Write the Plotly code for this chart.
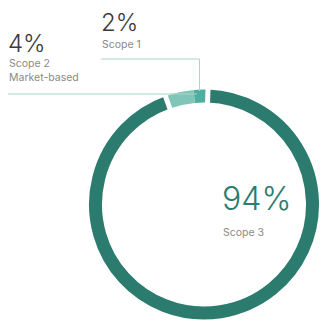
import plotly.graph_objects as go

W = H = 324
labels = ["Scope 1", "Scope 2", "Scope 3"]
values = [2, 4, 94]
pct_text = ["2%", "4%", "94%"]
sub_text = ["Scope 1", "Scope 2<br>Market-based", "Scope 3"]
colors = ["#4fae9f", "#80c6b8", "#2b7b6f"]

cx, cy = 204, 204.5  # ring centre in px
R, r = 115, 102       # outer / inner radius in px
gap = 5
rot = -5.2            # counterclockwise pies place first slice clockwise of this line


def dom(rad):
    return dict(x=[(cx - rad) / W, (cx + rad) / W],
                y=[(H - cy - rad) / H, (H - cy + rad) / H])


fig = go.Figure()
fig.add_trace(go.Pie(
    labels=labels, values=values, sort=False, direction="counterclockwise",
    rotation=rot, hole=r / R, domain=dom(R),
    marker=dict(colors=colors, line=dict(width=0)),
    textinfo="none", hoverinfo="label+percent", showlegend=False))
fig.add_trace(go.Pie(
    labels=labels, values=values, sort=False, direction="counterclockwise",
    rotation=rot, hole=(r - gap / 2) / (R + gap / 2), domain=dom(R + gap / 2),
    marker=dict(colors=["rgba(0,0,0,0)", "rgba(0,0,0,0)", colors[2]],
                line=dict(color="white", width=[0, 0, gap])),
    textinfo="none", hoverinfo="skip", showlegend=False))


def px(x, y):
    return x / W, 1 - y / H


line_col = "#a9d6cd"
shapes = []
for (x0, y0, x1, y1) in [(101, 59, 199.5, 59), (199.5, 59, 199.5, 91), (8, 94, 197, 94)]:
    a, b = px(x0, y0)
    c, d = px(x1, y1)
    shapes.append(dict(type="line", xref="paper", yref="paper", x0=a, y0=b, x1=c, y1=d,
                       line=dict(color=line_col, width=1)))

font_fam = "Inter, Lato, sans-serif"
ann = []
big = [(99, 23, 24, "#3a3a3a"), (6, 44, 24, "#3a3a3a"), (220, 199, 32, colors[2])]
small = [(100, 45), (7, 71), (221, 232)]
for i in range(3):
    x, y, s, c = big[i]
    a, b = px(x, y)
    ann.append(dict(x=a, y=b, xref="paper", yref="paper", text=pct_text[i], showarrow=False,
                    xanchor="left", yanchor="middle",
                    font=dict(family=font_fam, size=s, color=c, weight=300)))
    x, y = small[i]
    a, b = px(x, y)
    ann.append(dict(x=a, y=b, xref="paper", yref="paper", text=sub_text[i], showarrow=False,
                    xanchor="left", yanchor="middle", align="left",
                    font=dict(family=font_fam, size=10.5, color="#8a8a8a")))

fig.update_layout(width=W, height=H, margin=dict(l=0, r=0, t=0, b=0),
                  paper_bgcolor="white", plot_bgcolor="white",
                  shapes=shapes, annotations=ann)
fig.write_html("out.html")
